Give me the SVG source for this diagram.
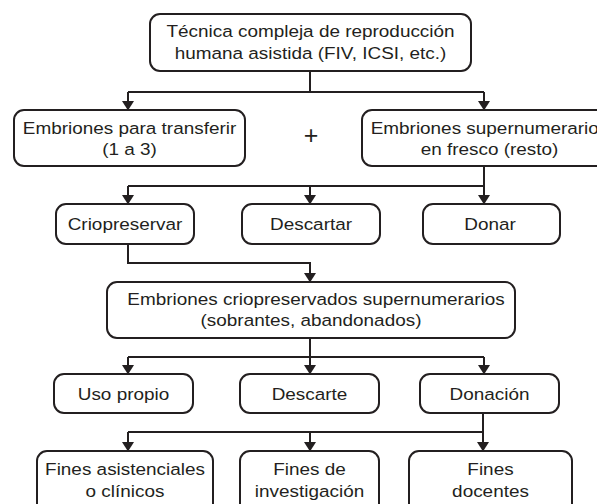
<svg xmlns="http://www.w3.org/2000/svg" width="597" height="504" viewBox="0 0 597 504">
<style>
.box{fill:#fff;stroke:#231f20;stroke-width:2}
.t{font-family:"Liberation Sans",Arial,Helvetica,sans-serif;font-size:17.2px;fill:#231f20;text-anchor:middle}
.c{fill:none;stroke:#231f20;stroke-width:2}
.a{marker-end:url(#ah)}
</style>
<defs>
<marker id="ah" markerUnits="userSpaceOnUse" markerWidth="10" markerHeight="12" refX="6" refY="6" orient="auto">
<path d="M0,0 L9.5,6 L0,12 z" fill="#231f20"/>
</marker>
</defs>
<rect width="597" height="504" fill="#fff"/>
<g id="connectors">
<path class="c" d="M310,71 V92 M128,92 H484"/>
<path class="c a" d="M128,92 V107"/>
<path class="c a" d="M484,92 V107"/>
<path class="c" d="M128,186 H484"/>
<path class="c a" d="M484,166 V201"/>
<path class="c a" d="M128,186 V201"/>
<path class="c a" d="M310,186 V201"/>
<path class="c a" d="M128,244 V263 H310 V279"/>
<path class="c" d="M128,357 H484"/>
<path class="c a" d="M310,338 V371"/>
<path class="c a" d="M128,357 V371"/>
<path class="c a" d="M484,357 V371"/>
<path class="c" d="M128,432 H483"/>
<path class="c a" d="M483,413 V448"/>
<path class="c a" d="M128,432 V448"/>
<path class="c a" d="M310,432 V448"/>
</g>
<g id="tecnica">
<rect class="box" x="150" y="14" width="321" height="57" rx="10"/>
<text class="t" transform="translate(310.5,37) scale(1.1,1)">Técnica compleja de reproducción</text>
<text class="t" transform="translate(310.5,58.5) scale(1.1,1)">humana asistida (FIV, ICSI, etc.)</text>
</g>
<g id="transferir">
<rect class="box" x="14" y="110" width="231" height="56" rx="10"/>
<text class="t" transform="translate(129.5,134) scale(1.1,1)">Embriones para transferir</text>
<text class="t" transform="translate(129.5,155) scale(1.1,1)">(1 a 3)</text>
</g>
<g id="plus">
<text x="311" y="143.5" style="font-family:'Liberation Sans',Arial,sans-serif;font-size:25px;fill:#231f20;text-anchor:middle">+</text>
</g>
<g id="fresco">
<rect class="box" x="362" y="110" width="262" height="56" rx="10"/>
<text class="t" transform="translate(489.5,134) scale(1.1,1)">Embriones supernumerarios</text>
<text class="t" transform="translate(489.5,155) scale(1.1,1)">en fresco (resto)</text>
</g>
<g id="criopreservar">
<rect class="box" x="56" y="204" width="138" height="40" rx="10"/>
<text class="t" transform="translate(125,230) scale(1.1,1)">Criopreservar</text>
</g>
<g id="descartar">
<rect class="box" x="242" y="204" width="138" height="40" rx="10"/>
<text class="t" transform="translate(311,230) scale(1.1,1)">Descartar</text>
</g>
<g id="donar">
<rect class="box" x="423" y="204" width="137" height="40" rx="10"/>
<text class="t" transform="translate(490,230) scale(1.1,1)">Donar</text>
</g>
<g id="criopreservados">
<rect class="box" x="107" y="282" width="408" height="56" rx="10"/>
<text class="t" transform="translate(316,305) scale(1.1,1)">Embriones criopreservados supernumerarios</text>
<text class="t" transform="translate(311,326) scale(1.1,1)">(sobrantes, abandonados)</text>
</g>
<g id="uso">
<rect class="box" x="54" y="374" width="139" height="39" rx="10"/>
<text class="t" transform="translate(123.5,400) scale(1.1,1)">Uso propio</text>
</g>
<g id="descarte">
<rect class="box" x="240" y="374" width="139" height="39" rx="10"/>
<text class="t" transform="translate(309.5,400) scale(1.1,1)">Descarte</text>
</g>
<g id="donacion">
<rect class="box" x="420" y="374" width="139" height="39" rx="10"/>
<text class="t" transform="translate(489.5,400) scale(1.1,1)">Donación</text>
</g>
<g id="asistenciales">
<rect class="box" x="37" y="451" width="176" height="62" rx="10"/>
<text class="t" transform="translate(125,475) scale(1.1,1)">Fines asistenciales</text>
<text class="t" transform="translate(125,496.5) scale(1.1,1)">o clínicos</text>
</g>
<g id="investigacion">
<rect class="box" x="240" y="451" width="139" height="62" rx="10"/>
<text class="t" transform="translate(309.5,475) scale(1.1,1)">Fines de</text>
<text class="t" transform="translate(309.5,496.5) scale(1.1,1)">investigación</text>
</g>
<g id="docentes">
<rect class="box" x="409" y="451" width="163" height="62" rx="10"/>
<text class="t" transform="translate(490.5,475) scale(1.1,1)">Fines</text>
<text class="t" transform="translate(490.5,496.5) scale(1.1,1)">docentes</text>
</g>
</svg>
